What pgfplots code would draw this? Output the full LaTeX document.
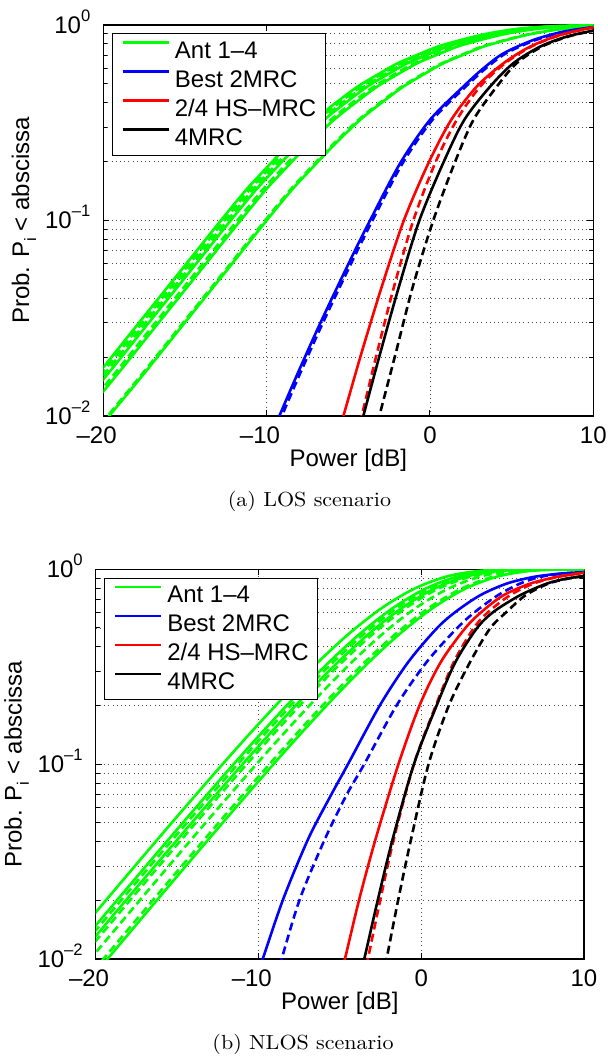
\documentclass[border=0pt]{standalone}
\usepackage{fontspec}
\usepackage{graphicx}
\usepackage{pgfplots}
\usepackage{pgfplotstable}
\pgfplotsset{compat=1.18}
\newfontfamily\hv{Liberation Sans}
\definecolor{mgreen}{rgb}{0,1,0}
\newcommand\pf{\hv\fontsize{12}{14.4}\selectfont}
\newcommand\tl[1]{10\raisebox{6pt}[0pt][0pt]{\fontsize{8.3}{8.3}\selectfont #1}}
\newcommand\capf[1]{\scalebox{1.08}[1]{\fontsize{10.2}{12}\selectfont #1}}

% LOS: antenna curves (p, x for each of 8 curves)
\pgfplotstableread{
p a b c d e f g h
0.0073 -21 -21.1 -22.6 -22.8 -23.2 -23.4 -23.6 -23.8
0.0092 -20 -20.1 -21.6 -21.8 -22.2 -22.4 -22.6 -22.8
0.0165 -17.5 -17.6 -19.1 -19.3 -19.7 -19.9 -20.1 -20.3
0.0301 -15 -15.1 -16.6 -16.8 -17.2 -17.4 -17.6 -17.8
0.0548 -12.5 -12.6 -14.1 -14.3 -14.7 -14.9 -15.1 -15.3
0.100 -10 -10.1 -11.6 -11.8 -12.2 -12.4 -12.6 -12.8
0.142 -8.5 -8.6 -10.1 -10.3 -10.7 -10.9 -11.1 -11.3
0.181 -7.34 -7.44 -8.94 -9.14 -9.54 -9.74 -9.94 -10.14
0.247 -5.8 -5.9 -7.4 -7.6 -8.0 -8.2 -8.4 -8.6
0.327 -4.28 -4.38 -5.88 -6.08 -6.48 -6.68 -6.88 -7.08
0.398 -3.0 -3.1 -4.6 -4.8 -5.2 -5.4 -5.6 -5.8
0.484 -1.63 -1.73 -3.23 -3.43 -3.83 -4.03 -4.23 -4.43
0.558 -0.4 -0.5 -2.0 -2.2 -2.6 -2.8 -3.0 -3.2
0.637 0.82 0.72 -0.78 -0.98 -1.38 -1.58 -1.78 -1.98
0.702 2.0 1.9 0.4 0.2 -0.2 -0.4 -0.6 -0.8
0.775 3.27 3.17 1.67 1.47 1.07 0.87 0.67 0.47
0.834 4.6 4.5 3.0 2.8 2.4 2.2 2.0 1.8
0.889 5.92 5.82 4.32 4.12 3.72 3.52 3.32 3.12
0.928 7.1 7.0 5.5 5.3 4.9 4.7 4.5 4.3
0.960 8.37 8.27 6.77 6.57 6.17 5.97 5.77 5.57
0.982 10 9.9 8.4 8.2 7.8 7.6 7.4 7.2
0.994 12 11.9 10.4 10.2 9.8 9.6 9.4 9.2
0.999 14 13.9 12.4 12.2 11.8 11.6 11.4 11.2
}\losg

% NLOS: antenna curves
\pgfplotstableread{
p a b c d e f g h
0.003973 -26.43 -25.75 -25.2 -23.3 -25.5 -24.95 -24.35 -23.55
0.006290 -24.43 -23.75 -23.2 -21.3 -23.5 -22.95 -22.35 -21.55
0.009950 -22.43 -21.75 -21.2 -19.3 -21.5 -20.95 -20.35 -19.55
0.017626 -19.93 -19.25 -18.7 -16.8 -19.0 -18.45 -17.85 -17.05
0.031128 -17.43 -16.75 -16.2 -14.3 -16.5 -15.95 -15.35 -14.55
0.054682 -14.93 -14.25 -13.7 -11.8 -14.0 -13.45 -12.85 -12.05
0.095163 -12.43 -11.75 -11.2 -9.3 -11.5 -10.95 -10.35 -9.55
0.146567 -10.43 -9.75 -9.2 -7.3 -9.5 -8.95 -8.35 -7.55
0.222134 -8.43 -7.75 -7.2 -5.3 -7.5 -6.95 -6.35 -5.55
0.328412 -6.43 -5.75 -5.2 -3.3 -5.5 -4.95 -4.35 -3.55
0.467896 -4.43 -3.75 -3.2 -1.3 -3.5 -2.95 -2.35 -1.55
0.632121 -2.43 -1.75 -1.2 0.7 -1.5 -0.95 -0.35 0.45
0.795007 -0.43 0.25 0.8 2.7 0.5 1.05 1.65 2.45
0.918891 1.57 2.25 2.8 4.7 2.5 3.05 3.65 4.45
0.981328 3.57 4.25 4.8 6.7 4.5 5.05 5.65 6.45
0.998184 5.57 6.25 6.8 8.7 6.5 7.05 7.65 8.45
0.999955 7.57 8.25 8.8 10.7 8.5 9.05 9.65 10.45
1.0 9.57 10.25 10.8 12.7 10.5 11.05 11.65 12.45
1.0 11.57 12.25 12.8 14.7 12.5 13.05 13.65 14.45
}\nlosg

\pgfplotsset{
  legend image code/.code={\draw[#1, line width=1.3pt] (0pt,4.3pt) -- (23pt,4.3pt);},
  sol/.style={solid},
  das/.style={dash pattern=on 4pt off 2.2pt},
}

\pgfplotsset{
  myaxis/.style={
    scale only axis,
    xmin=-20, xmax=10, ymin=0.01, ymax=1,
    xtick={-20,-10,0,10}, xticklabels={\llap{–}20,\llap{–}10,0,10},
    ytick={0.01,0.1,1}, yticklabels={\tl{–2},\tl{–1},\tl{0}},
    minor ytick={0.02,0.03,0.04,0.05,0.06,0.07,0.08,0.09,0.2,0.3,0.4,0.5,0.6,0.7,0.8,0.9},
    tick align=inside, major tick length=3pt, minor tick length=2pt,
    every tick/.style={black, line width=0.5pt},
    xmajorgrids, ymajorgrids, yminorgrids,
    major grid style={black!70, line width=0.45pt, dash pattern=on 0.5pt off 1.6pt},
    minor grid style={black!70, line width=0.45pt, dash pattern=on 0.5pt off 1.6pt},
    axis line style={line width=0.6pt},
    tick label style={font=\pf},
    xticklabel style={anchor=base, yshift=-13.8pt},
    yticklabel style={anchor=east, inner sep=0pt, xshift=-6.3pt},
    label style={font=\pf},
    xlabel={Power [dB]},
    ylabel={Prob. P\raisebox{-3.6pt}{\fontsize{8.3}{8.3}\selectfont i} < abscissa},
    xlabel style={at={(axis description cs:0.5,-0.1297)}, anchor=base},
    ylabel style={at={(axis description cs:-0.1516,0.5)}, anchor=base},
    legend style={at={(0,1)}, anchor=north west, xshift=4.2pt, yshift=-4.15pt,
      font=\pf, draw=black, line width=0.6pt, fill=white,
      inner xsep=4.5pt, inner ysep=1.4pt, row sep=0pt, column sep=2.5pt,
      nodes={inner sep=0pt, text height=10.95pt, text depth=3.55pt}},
    legend cell align=left,
    every axis plot/.append style={line width=1.3pt, smooth},
  },
}

\begin{document}
\begin{tikzpicture}
\path[use as bounding box] (0,0) rectangle (304pt,530pt);

% ---------------- (a) LOS ----------------
\begin{semilogyaxis}[myaxis, at={(51.65pt,322pt)}, anchor=south west, width=245pt, height=195.5pt]
\addlegendimage{mgreen}\addlegendentry{Ant 1–4}
\addlegendimage{blue}\addlegendentry{Best 2MRC}
\addlegendimage{red}\addlegendentry{2/4 HS–MRC}
\addlegendimage{black}\addlegendentry{4MRC}

\addplot[mgreen, sol, forget plot] table[x=a, y=p] {\losg};
\addplot[mgreen, das, forget plot] table[x=b, y=p] {\losg};
\addplot[mgreen, sol, forget plot] table[x=c, y=p] {\losg};
\addplot[mgreen, das, forget plot] table[x=d, y=p] {\losg};
\addplot[mgreen, sol, forget plot] table[x=e, y=p] {\losg};
\addplot[mgreen, das, forget plot] table[x=f, y=p] {\losg};
\addplot[mgreen, das, forget plot] table[x=g, y=p] {\losg};
\addplot[mgreen, sol, forget plot] table[x=h, y=p] {\losg};

\addplot[blue, sol, forget plot] coordinates {(-9.7,0.0080) (-9.22,0.0100) (-8.2,0.0158) (-7.0,0.0265) (-6.0,0.040) (-4.69,0.0676) (-3.67,0.100) (-1.83,0.196) (0,0.327) (2.04,0.484) (3.27,0.600) (4.5,0.716) (6.33,0.838) (8.17,0.925) (10,0.975)};
\addplot[blue, das, forget plot] coordinates {(-9.55,0.008) (-9.07,0.01) (-8.05,0.0158) (-6.85,0.0265) (-5.85,0.040) (-4.54,0.0676) (-3.52,0.100) (-1.68,0.196) (0.15,0.327) (2.19,0.484) (3.42,0.600) (4.65,0.716) (6.48,0.838) (8.32,0.925) (10,0.973)};

\addplot[red, sol, forget plot] coordinates {(-5.65,0.008) (-5.3,0.01) (-4.2,0.0209) (-2.95,0.0459) (-1.6,0.1) (-0.1,0.196) (1.3,0.327) (2.86,0.484) (4.5,0.637) (6.13,0.775) (7.96,0.889) (10,0.973)};
\addplot[red, das, forget plot] coordinates {(-4.47,0.008) (-4.18,0.01) (-3.25,0.0209) (-2.2,0.0459) (-1.02,0.1) (0.31,0.196) (1.64,0.327) (3.07,0.484) (4.6,0.637) (6.2,0.775) (8.0,0.889) (10,0.972)};

\addplot[black, sol, forget plot] coordinates {(-4.37,0.008) (-4.08,0.01) (-3.05,0.0209) (-1.9,0.0459) (-0.65,0.1) (0.8,0.196) (2.1,0.327) (3.68,0.484) (5.1,0.637) (6.74,0.775) (8.37,0.872) (10,0.936)};
\addplot[black, das, forget plot] coordinates {(-3.38,0.008) (-3.1,0.01) (-2.1,0.0209) (-1.05,0.0459) (0.2,0.1) (1.5,0.196) (2.66,0.327) (4.09,0.484) (5.3,0.637) (6.85,0.775) (8.45,0.872) (10,0.935)};
\end{semilogyaxis}
\node[anchor=base] at (154.7pt,276.65pt) {\capf{(a) LOS scenario}};

% ---------------- (b) NLOS ----------------
\begin{semilogyaxis}[myaxis, at={(47.85pt,50.5pt)}, anchor=south west, width=244.15pt, height=194.85pt]
\addlegendimage{mgreen}\addlegendentry{Ant 1–4}
\addlegendimage{blue}\addlegendentry{Best 2MRC}
\addlegendimage{red}\addlegendentry{2/4 HS–MRC}
\addlegendimage{black}\addlegendentry{4MRC}

\addplot[mgreen, sol, forget plot] table[x=a, y=p] {\nlosg};
\addplot[mgreen, sol, forget plot] table[x=b, y=p] {\nlosg};
\addplot[mgreen, sol, forget plot] table[x=c, y=p] {\nlosg};
\addplot[mgreen, sol, forget plot] table[x=d, y=p] {\nlosg};
\addplot[mgreen, das, forget plot] table[x=e, y=p] {\nlosg};
\addplot[mgreen, das, forget plot] table[x=f, y=p] {\nlosg};
\addplot[mgreen, das, forget plot] table[x=g, y=p] {\nlosg};
\addplot[mgreen, das, forget plot] table[x=h, y=p] {\nlosg};

\addplot[blue, sol, forget plot] coordinates {(-10.14,0.008) (-9.74,0.01) (-8.47,0.0204) (-6.94,0.0414) (-5.55,0.0692) (-4.5,0.1) (-2.54,0.2004) (-0.8,0.334) (0.94,0.496) (2.1,0.604) (3.61,0.735) (5.24,0.844) (6.88,0.913) (8.5,0.950) (10,0.968)};
\addplot[blue, das, forget plot] coordinates {(-8.95,0.008) (-8.58,0.01) (-7.45,0.0204) (-5.91,0.0414) (-4.6,0.0692) (-3.5,0.1) (-1.51,0.2004) (0.33,0.334) (2.17,0.496) (3.3,0.604) (4.7,0.735) (6.06,0.844) (7.29,0.913) (8.7,0.950) (10,0.966)};

\addplot[red, sol, forget plot] coordinates {(-5.0,0.0081) (-4.69,0.01) (-3.8,0.0204) (-2.8,0.0414) (-1.4,0.1) (-0.1,0.2004) (1.2,0.334) (2.68,0.496) (3.7,0.604) (5.04,0.735) (6.68,0.844) (8.32,0.913) (10,0.96)};
\addplot[red, das, forget plot] coordinates {(-3.55,0.008) (-3.28,0.01) (-2.5,0.0204) (-1.68,0.0414) (-0.45,0.1) (0.9,0.2004) (2.0,0.334) (3.2,0.496) (4.12,0.604) (5.45,0.735) (6.88,0.844) (8.5,0.92) (10,0.96)};

\addplot[black, sol, forget plot] coordinates {(-3.8,0.008) (-3.5,0.01) (-2.65,0.0204) (-1.75,0.0414) (-0.45,0.1) (0.95,0.2004) (2.1,0.334) (3.4,0.496) (4.43,0.604) (6.06,0.735) (7.7,0.844) (8.9,0.895) (10,0.924)};
\addplot[black, das, forget plot] coordinates {(-2.37,0.008) (-2.13,0.01) (-1.4,0.0204) (-0.62,0.0414) (0.45,0.1) (1.7,0.2004) (3.0,0.334) (4.22,0.496) (5.24,0.604) (6.4,0.735) (7.8,0.844) (9.0,0.895) (10,0.922)};
\end{semilogyaxis}
\node[anchor=base] at (151.5pt,5.15pt) {\capf{(b) NLOS scenario}};
\end{tikzpicture}
\end{document}
